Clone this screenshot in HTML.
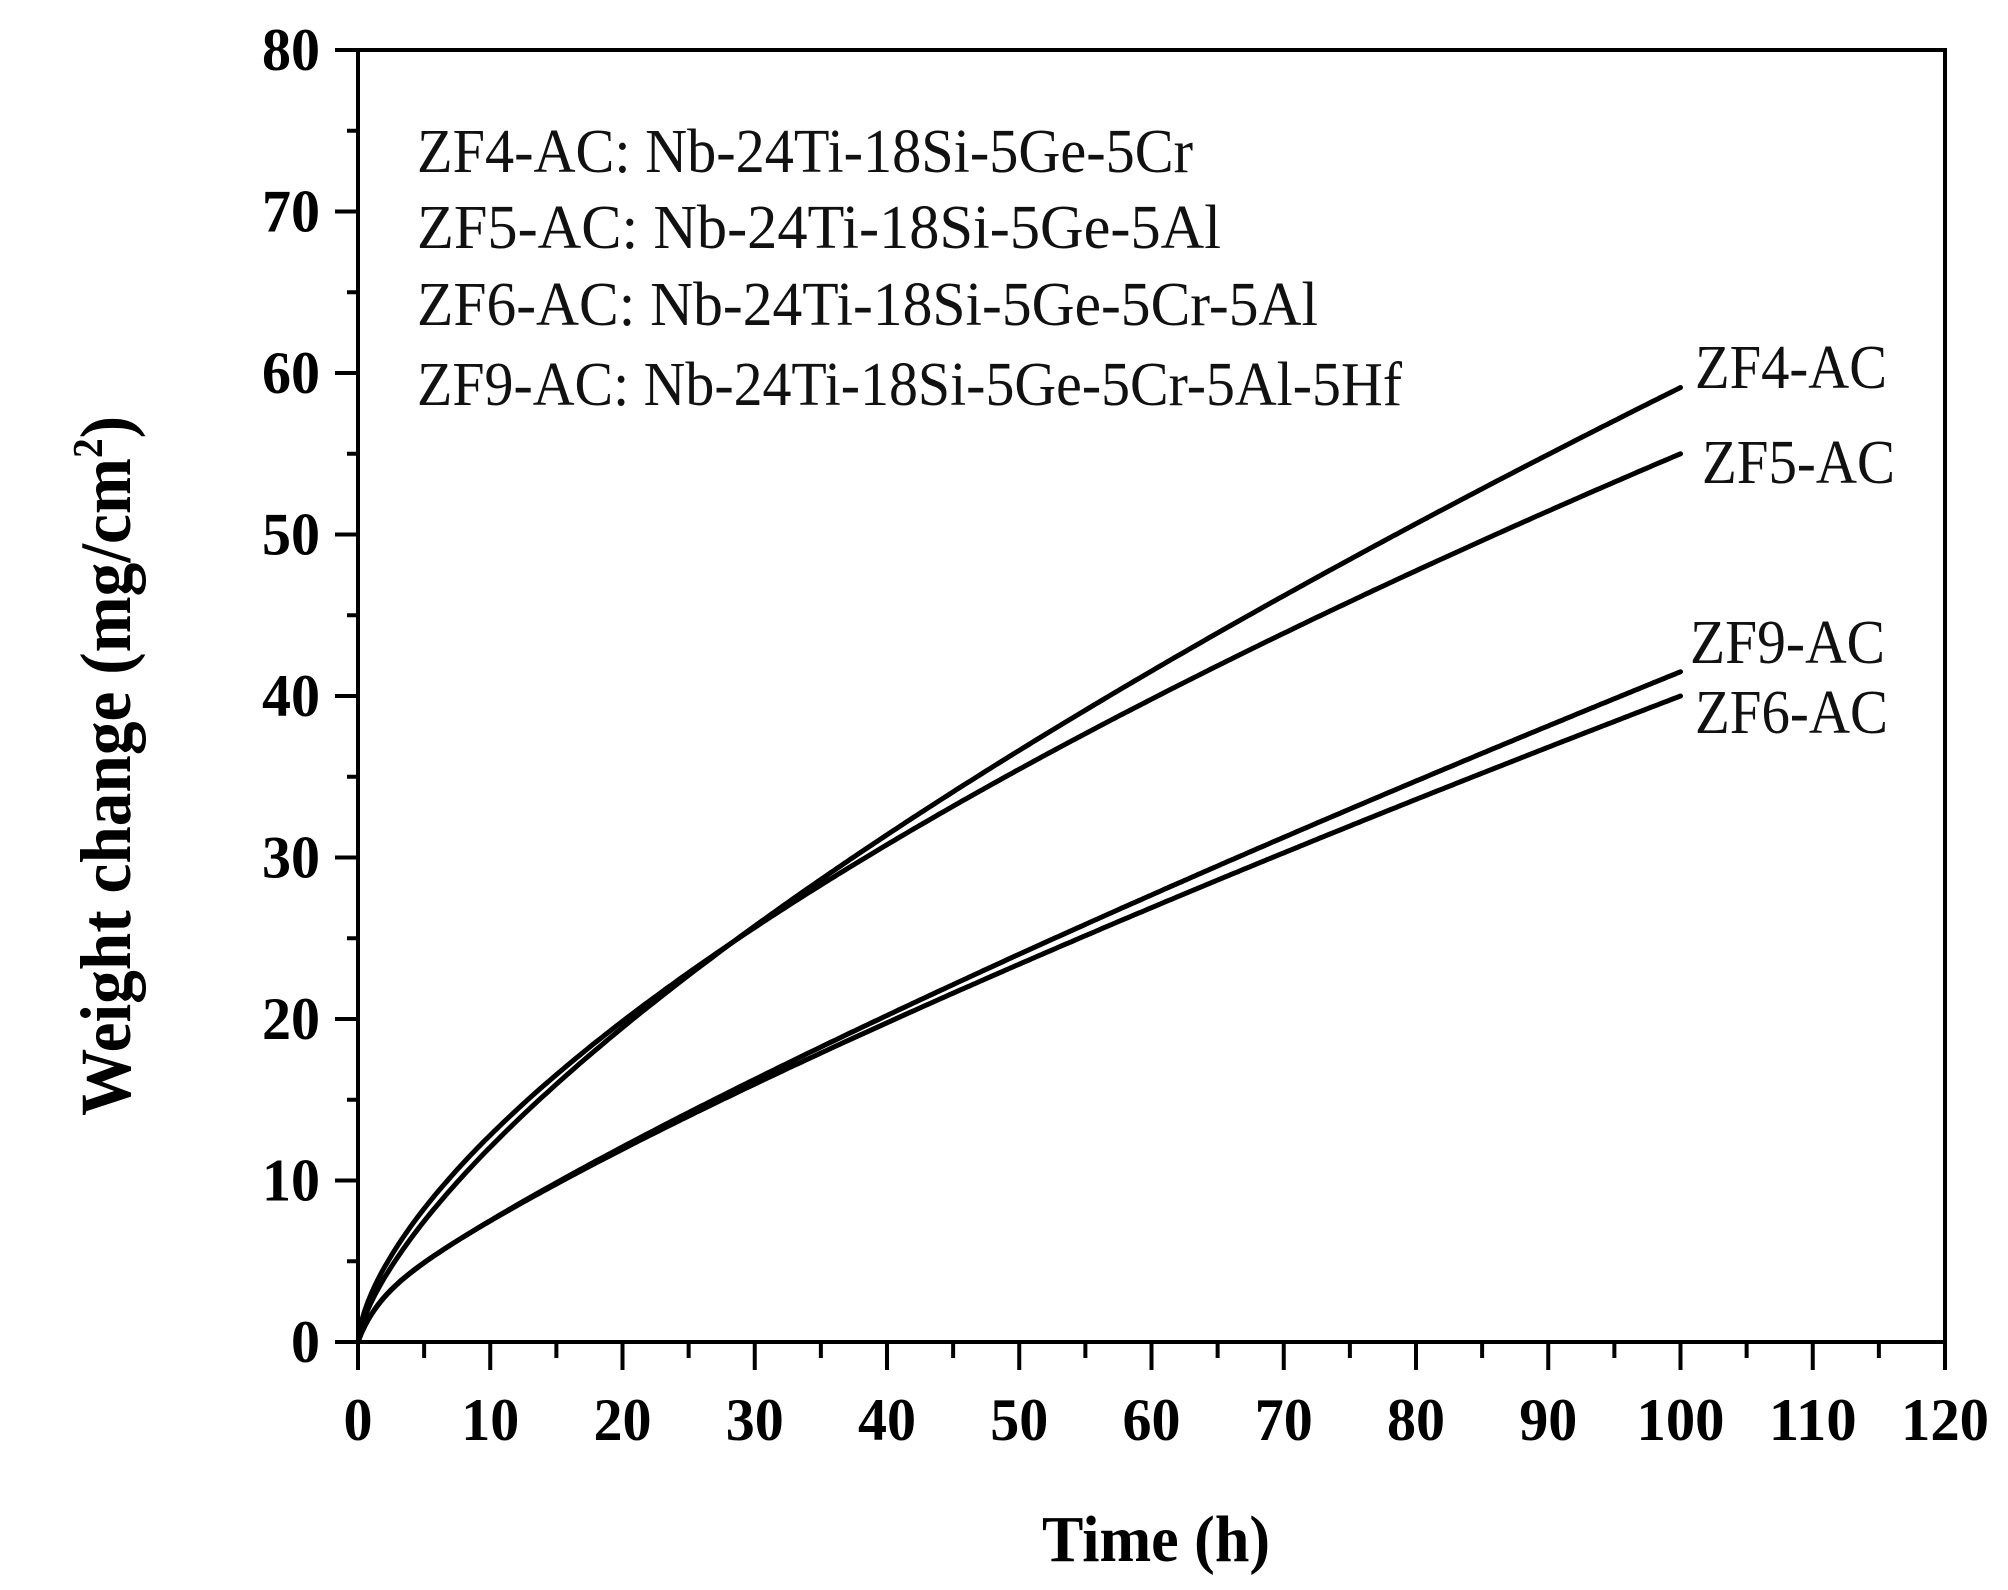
<!DOCTYPE html>
<html><head><meta charset="utf-8"><style>html,body{margin:0;padding:0;background:#fff}svg{display:block}</style></head>
<body>
<svg id="s" width="2008" height="1590" viewBox="0 0 2008 1590" xmlns="http://www.w3.org/2000/svg" font-family="'Liberation Serif', serif">
<g stroke="#000" stroke-width="4" fill="none" id="ax">
<line x1="335" y1="50" x2="1947" y2="50"/>
<line x1="1945" y1="48" x2="1945" y2="1370"/>
<line x1="358" y1="48" x2="358" y2="1370"/>
<line x1="335" y1="1342" x2="1947" y2="1342"/>
</g>
<g id="curves" stroke="#000" stroke-width="5" fill="none" stroke-linecap="round"></g>
<g font-weight="bold" font-size="60" text-anchor="end" id="yl"></g>
<g font-weight="bold" font-size="60" text-anchor="middle" id="xl"></g>
<g font-size="62" fill="#111">
<text x="417" y="172" textLength="776" lengthAdjust="spacingAndGlyphs">ZF4-AC: Nb-24Ti-18Si-5Ge-5Cr</text>
<text x="417" y="248" textLength="804" lengthAdjust="spacingAndGlyphs">ZF5-AC: Nb-24Ti-18Si-5Ge-5Al</text>
<text x="417" y="325" textLength="901" lengthAdjust="spacingAndGlyphs">ZF6-AC: Nb-24Ti-18Si-5Ge-5Cr-5Al</text>
<text x="417" y="405" textLength="985" lengthAdjust="spacingAndGlyphs">ZF9-AC: Nb-24Ti-18Si-5Ge-5Cr-5Al-5Hf</text>
<text x="1695" y="388" textLength="192" lengthAdjust="spacingAndGlyphs">ZF4-AC</text>
<text x="1702" y="483" textLength="193" lengthAdjust="spacingAndGlyphs">ZF5-AC</text>
<text x="1690" y="663" textLength="195" lengthAdjust="spacingAndGlyphs">ZF9-AC</text>
<text x="1695" y="733" textLength="193" lengthAdjust="spacingAndGlyphs">ZF6-AC</text>
</g>
<text x="1042" y="1561" font-weight="bold" font-size="66" textLength="228" lengthAdjust="spacingAndGlyphs">Time (h)</text>
<text transform="translate(130,1116) rotate(-90)" font-weight="bold" font-size="72" textLength="700" lengthAdjust="spacingAndGlyphs">Weight change (mg/cm<tspan dy="-28" font-size="42">2</tspan><tspan dy="28">)</tspan></text>
</svg>
<script>
var NS="http://www.w3.org/2000/svg";
function X(t){return 358+t*13.225}
function Y(v){return 1342-v*16.15}
function el(p,tag,a,txt){var e=document.createElementNS(NS,tag);for(var k in a)e.setAttribute(k,a[k]);if(txt!=null)e.textContent=txt;p.appendChild(e);return e}
var ax=document.getElementById('ax');
for(var t=0;t<=120;t+=5){var maj=t%10==0;el(ax,'line',{x1:X(t),y1:1342,x2:X(t),y2:maj?1370:1358});}
for(var v=0;v<=80;v+=5){var maj=v%10==0;el(ax,'line',{x1:358,y1:Y(v),x2:maj?335:347,y2:Y(v)});}
var yl=document.getElementById('yl');
for(var v=0;v<=80;v+=10)el(yl,'text',{x:320,y:Y(v)+20,textLength:v?58:29,lengthAdjust:'spacingAndGlyphs'},v);
var xl=document.getElementById('xl');
for(var t=0;t<=120;t+=10)el(xl,'text',{x:X(t),y:1440,textLength:t>=100?88:(t?58:29),lengthAdjust:'spacingAndGlyphs'},t);
var cv=document.getElementById('curves');
function curve(a,n,k){var d='';for(var i=0;i<=400;i++){var t=i/4;var v=a*Math.pow(t/100,n)+k*(1-Math.exp(-t/1.5));d+=(i?'L':'M')+X(t).toFixed(1)+','+Y(v).toFixed(1)}el(cv,'path',{d:d})}
curve(59.1,0.69,0);curve(55,0.633,0);curve(38.3,0.82,1.7);curve(39.8,0.835,1.7);
</script>
</body></html>
